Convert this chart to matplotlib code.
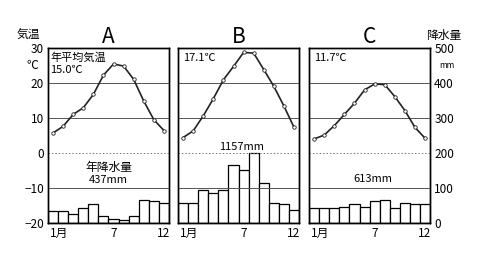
import matplotlib
matplotlib.use("Agg")
import matplotlib.pyplot as plt

plt.rcParams['font.family'] = ['Noto Sans CJK JP', 'DejaVu Sans']

months = list(range(1, 13))
panels = ["A", "B", "C"]

temp_a = [5.7, 7.6, 11.0, 12.9, 16.7, 22.2, 25.4, 24.8, 21.0, 14.8, 9.5, 6.4]
temp_b = [4.4, 6.3, 10.6, 15.5, 20.9, 24.7, 28.7, 28.5, 23.8, 19.0, 13.4, 7.3]
temp_c = [4.0, 5.1, 7.8, 11.0, 14.2, 18.0, 19.7, 19.5, 16.1, 12.1, 7.3, 4.2]

prec_a = [34, 34, 25, 44, 53, 20, 12, 8, 20, 66, 64, 57]
prec_b = [58, 58, 95, 86, 95, 165, 150, 200, 113, 58, 54, 36]
prec_c = [42, 42, 42, 47, 55, 47, 62, 66, 42, 57, 54, 55]

mean_temp = ["15.0℃", "17.1℃", "11.7℃"]
annual_prec = ["437", "1157", "613"]

temp_ticks = [-20, -10, 0, 10, 20, 30]
temp_labels = ["−20", "−10", "0", "10", "20", "30"]
prec_ticks = [0, 100, 200, 300, 400, 500]

fig = plt.figure(figsize=(4.8, 2.56), dpi=100)

lefts = [0.100, 0.371, 0.644]
width = 0.252
bottom, height = 0.129, 0.684

temps = [temp_a, temp_b, temp_c]
precs = [prec_a, prec_b, prec_c]

for i in range(3):
    ax = fig.add_axes([lefts[i], bottom, width, height])
    ax2 = ax.twinx()
    ax.set_zorder(ax2.get_zorder() + 1)
    ax.patch.set_visible(False)

    ax2.bar(months, precs[i], width=1.0, color="white", edgecolor="black", linewidth=0.9)
    ax2.set_ylim(0, 500)
    ax.set_ylim(-20, 30)
    ax.set_xlim(0.5, 12.5)

    for y in [20, 10, -10]:
        ax.axhline(y, color="#555555", linewidth=0.7, zorder=0)
    ax.axhline(0, color="#777777", linewidth=0.7, linestyle=(0, (1.5, 2)), zorder=0)

    ax.plot(months, temps[i], color="#222222", linewidth=1.2, marker="o", markersize=2.5,
            markerfacecolor="white", markeredgecolor="#222222", markeredgewidth=0.6)

    for a in (ax, ax2):
        for s in a.spines.values():
            s.set_linewidth(1.0)
    ax.set_xticks([1.6, 7, 12])
    ax.set_xticklabels(["1月", "7", "12"], fontsize=8.5)
    ax.tick_params(axis="x", length=0, pad=3)

    if i == 0:
        ax.set_yticks(temp_ticks)
        ax.set_yticklabels(temp_labels, fontsize=8.5)
        ax.tick_params(axis="y", length=0, pad=3)
    else:
        ax.set_yticks([])
    if i == 2:
        ax2.set_yticks(prec_ticks)
        ax2.set_yticklabels([str(v) for v in prec_ticks], fontsize=8.5)
        ax2.tick_params(axis="y", length=0, pad=3)
    else:
        ax2.set_yticks([])

    ax.set_title(panels[i], fontsize=15, pad=2)

    if i == 0:
        ax.text(0.7, 28.8, "年平均気温", fontsize=8, va="top", ha="left")
        ax.text(0.7, 25.0, mean_temp[i], fontsize=8, va="top", ha="left")
        ax.text(6.5, -2.3, "年降水量", fontsize=8.5, va="top", ha="center")
        ax.text(6.5, -6.3, annual_prec[i] + "mm", fontsize=8, va="top", ha="center")
    elif i == 1:
        ax.text(1.0, 28.5, mean_temp[i], fontsize=8, va="top", ha="left")
        ax.text(6.8, 3.0, annual_prec[i] + "mm", fontsize=8, va="top", ha="center")
    else:
        ax.text(1.0, 28.5, mean_temp[i], fontsize=8, va="top", ha="left")
        ax.text(6.8, -6.0, annual_prec[i] + "mm", fontsize=8, va="top", ha="center")

fig.text(0.058, 0.86, "気温", fontsize=8.5, ha="center", va="center")
fig.text(0.068, 0.745, "℃", fontsize=8.5, ha="center", va="center")
fig.text(0.925, 0.86, "降水量", fontsize=8.5, ha="center", va="center")
fig.text(0.93, 0.745, "mm", fontsize=6, ha="center", va="center")

fig.savefig("out.png", dpi=100)
